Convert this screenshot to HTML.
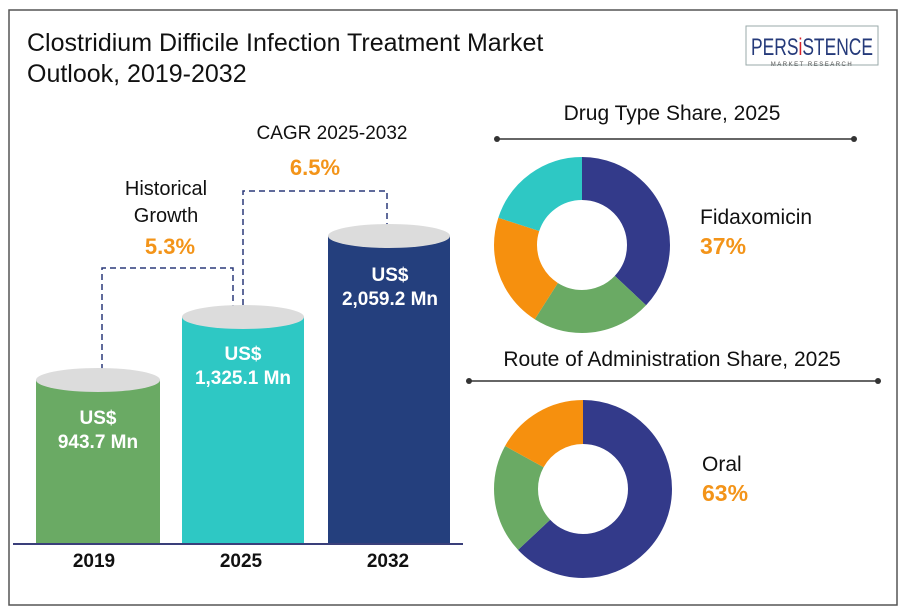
<!DOCTYPE html>
<html><head><meta charset="utf-8"><style>
body{margin:0;background:#fff;}
svg{display:block;font-family:"Liberation Sans",sans-serif;}
</style></head><body>
<svg width="900" height="614" viewBox="0 0 900 614" xmlns="http://www.w3.org/2000/svg">
<rect x="0" y="0" width="900" height="614" fill="#fff"/>
<rect x="9" y="10" width="888" height="595" fill="none" stroke="#555" stroke-width="1.5"/>
<text x="27" y="51" font-size="25" fill="#111">Clostridium Difficile Infection Treatment Market</text>
<text x="27" y="82" font-size="25" fill="#111">Outlook, 2019-2032</text>
<!-- logo -->
<rect x="746" y="26" width="132" height="39" fill="#fff" stroke="#9aa" stroke-width="1"/>
<text x="812" y="55" font-size="24" fill="#253a7a" text-anchor="middle" textLength="122" lengthAdjust="spacingAndGlyphs">PERS<tspan fill="#d8232a">i</tspan>STENCE</text>
<text x="812" y="66" font-size="6" fill="#555" text-anchor="middle" letter-spacing="1.5">MARKET RESEARCH</text>
<!-- dashed connectors -->
<path d="M102 380 V268 H233 V306" fill="none" stroke="#2c3a7a" stroke-width="1.5" stroke-dasharray="6,4"/>
<path d="M243 305 V191 H387 V228" fill="none" stroke="#2c3a7a" stroke-width="1.5" stroke-dasharray="6,4"/>
<!-- bars -->
<rect x="36" y="380" width="124" height="164" fill="#6aaa64"/>
<ellipse cx="98" cy="380" rx="62" ry="12" fill="#dcdcdc"/>
<rect x="182" y="317" width="122" height="227" fill="#2ec8c4"/>
<ellipse cx="243" cy="317" rx="61" ry="12" fill="#dcdcdc"/>
<rect x="328" y="236" width="122" height="308" fill="#243f7d"/>
<ellipse cx="389" cy="236" rx="61" ry="12" fill="#dcdcdc"/>
<line x1="13" y1="544" x2="268" y2="544" stroke="#3a3f7a" stroke-width="2"/>
<line x1="268" y1="544" x2="463" y2="544" stroke="#3a3f7a" stroke-width="2"/>
<g font-weight="bold" fill="#fff" font-size="19" text-anchor="middle">
<text x="98" y="424">US$</text><text x="98" y="448">943.7 Mn</text>
<text x="243" y="360">US$</text><text x="243" y="384">1,325.1 Mn</text>
<text x="390" y="281">US$</text><text x="390" y="305">2,059.2 Mn</text>
</g>
<g font-weight="bold" fill="#111" font-size="19" text-anchor="middle">
<text x="94" y="567">2019</text><text x="241" y="567">2025</text><text x="388" y="567">2032</text>
</g>
<text x="332" y="139" font-size="19" fill="#111" text-anchor="middle">CAGR 2025-2032</text>
<text x="315" y="175" font-size="22" font-weight="bold" fill="#f39419" text-anchor="middle">6.5%</text>
<text x="166" y="195" font-size="20" fill="#111" text-anchor="middle">Historical</text>
<text x="166" y="222" font-size="20" fill="#111" text-anchor="middle">Growth</text>
<text x="170" y="254" font-size="22" font-weight="bold" fill="#f39419" text-anchor="middle">5.3%</text>
<!-- section headers -->
<text x="672" y="120" font-size="21" fill="#111" text-anchor="middle">Drug Type Share, 2025</text>
<line x1="497" y1="139" x2="854" y2="139" stroke="#333" stroke-width="1.5"/>
<circle cx="497" cy="139" r="3" fill="#333"/><circle cx="854" cy="139" r="3" fill="#333"/>
<text x="672" y="366" font-size="21" fill="#111" text-anchor="middle">Route of Administration Share, 2025</text>
<line x1="469" y1="381" x2="878" y2="381" stroke="#333" stroke-width="1.5"/>
<circle cx="469" cy="381" r="3" fill="#333"/><circle cx="878" cy="381" r="3" fill="#333"/>
<!-- donut 1 -->
<g transform="translate(582,245) rotate(-90)" fill="none" stroke-width="43">
<circle r="66.5" stroke="#333a8a" stroke-dasharray="154.6 417.8"/>
<circle r="66.5" stroke="#6aaa64" stroke-dasharray="91.9 417.8" stroke-dashoffset="-154.6"/>
<circle r="66.5" stroke="#f6900e" stroke-dasharray="87.7 417.8" stroke-dashoffset="-246.5"/>
<circle r="66.5" stroke="#2ec8c4" stroke-dasharray="83.6 417.8" stroke-dashoffset="-334.2"/>
</g>
<!-- donut 2 -->
<g transform="translate(583,489) rotate(-90)" fill="none" stroke-width="44">
<circle r="67" stroke="#333a8a" stroke-dasharray="265.2 421" />
<circle r="67" stroke="#6aaa64" stroke-dasharray="84.2 421" stroke-dashoffset="-265.2"/>
<circle r="67" stroke="#f6900e" stroke-dasharray="71.6 421" stroke-dashoffset="-349.4"/>
</g>
<text x="700" y="224" font-size="21" fill="#111">Fidaxomicin</text>
<text x="700" y="254" font-size="23" font-weight="bold" fill="#f39419">37%</text>
<text x="702" y="471" font-size="21" fill="#111">Oral</text>
<text x="702" y="501" font-size="23" font-weight="bold" fill="#f39419">63%</text>
</svg>
</body></html>
